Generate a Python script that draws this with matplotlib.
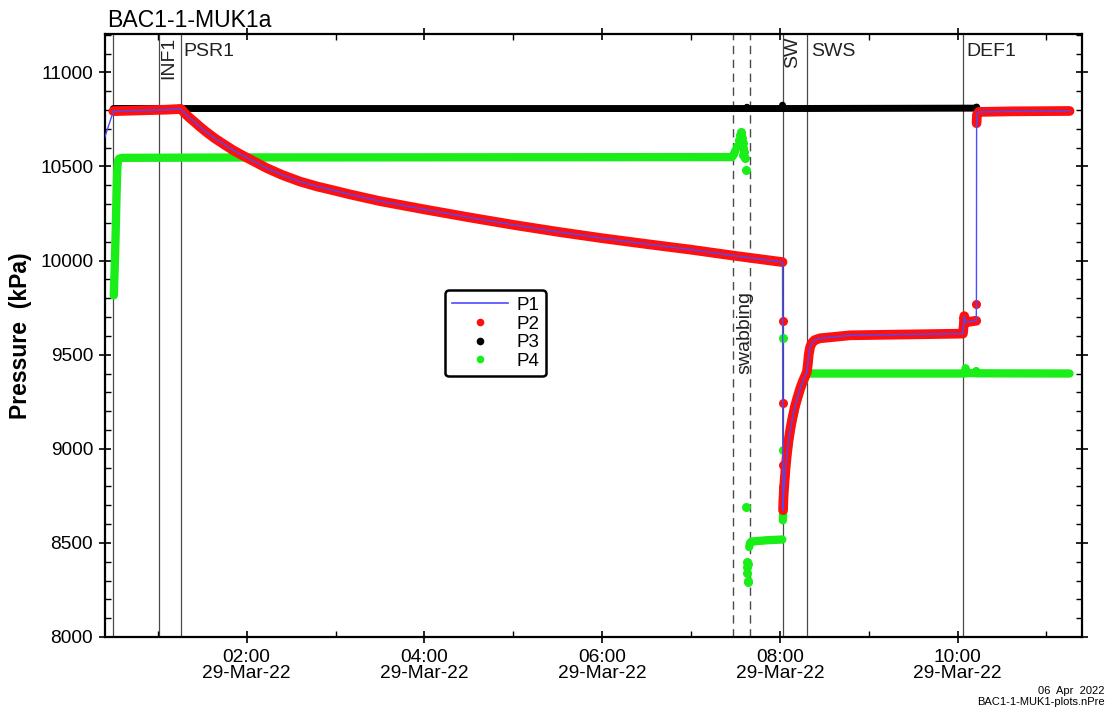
import numpy as np
import matplotlib
matplotlib.use("Agg")
import matplotlib.pyplot as plt
import matplotlib.dates as mdates
from matplotlib.lines import Line2D
from matplotlib.ticker import MultipleLocator
import matplotlib.transforms as mtransforms

plt.rcParams['font.family'] = ['Liberation Sans', 'DejaVu Sans']

# ---- gauge data (hours after midnight, 29-Mar-22; pressure in kPa) ----
# P2: continuous runs of readings
p2_run1_h = [0.50, 0.80, 1.10, 1.26, 1.30, 1.35, 1.40, 1.475, 1.55, 1.65, 1.75, 1.846, 1.95,
             2.05, 2.228, 2.40, 2.60, 2.80, 2.97, 3.16, 3.50, 4.00, 4.50, 5.00, 5.50, 6.00,
             6.50, 7.00, 7.50, 8.030]
p2_run1_kpa = [10794, 10798, 10802, 10806, 10785, 10762, 10742, 10711, 10682, 10647, 10616, 10587, 10560,
               10535, 10491, 10455, 10420, 10393, 10374, 10352, 10316, 10272, 10230, 10190, 10153, 10119,
               10088, 10058, 10025, 9992]
p2_run2_h = [8.036, 8.040, 8.045, 8.055, 8.065, 8.08, 8.10, 8.12, 8.14, 8.17, 8.20, 8.23, 8.26,
             8.29, 8.305, 8.315, 8.325, 8.34, 8.36, 8.39, 8.45, 8.60, 8.79, 9.50, 10.06,
             10.07, 10.075, 10.085, 10.09, 10.15, 10.20, 10.21]
p2_run2_kpa = [8674, 8730, 8775, 8840, 8900, 8975, 9050, 9110, 9160, 9225, 9275, 9322, 9360,
               9392, 9410, 9450, 9500, 9540, 9562, 9577, 9587, 9594, 9603, 9608, 9612,
               9660, 9705, 9680, 9673, 9676, 9680, 9680]
p2_run3_h = [10.214, 10.218, 10.24, 10.60, 11.26]
p2_run3_kpa = [10730, 10775, 10790, 10793, 10795]
# P2: isolated readings during fast transients
p2_iso_h = [8.031, 8.032, 8.033, 8.034, 8.035, 10.212]
p2_iso_kpa = [9678, 9242, 8913, 8796, 8750, 9770]

# P1: lead-in reading before P2 starts
p1_lead_h = [0.40]
p1_lead_kpa = [10650]

# P3
p3_h = [0.50, 7.62, 7.63, 7.64, 8.025, 8.030, 8.035, 10.21, 10.215, 10.22]
p3_kpa = [10808, 10808, 10815, 10808, 10808, 10826, 10808, 10810, 10816, 10810]

# P4: continuous runs
p4_run1_h = [0.505, 0.509, 0.513, 0.517, 0.521, 0.525, 0.529, 0.533, 0.537, 0.541, 0.546,
             0.552, 0.565, 0.60, 2.00, 5.00, 7.46, 7.48, 7.50]
p4_run1_kpa = [9815, 9870, 9930, 9990, 10060, 10130, 10210, 10290, 10370, 10440, 10500,
               10530, 10542, 10546, 10548, 10549, 10550, 10562, 10585]
p4_run2_h = [7.655, 7.665, 7.68, 7.85, 8.028]
p4_run2_kpa = [8478, 8500, 8507, 8514, 8518]
p4_run3_h = [8.034, 8.037, 8.040, 8.045, 8.055, 8.065, 8.08, 8.10, 8.12, 8.14, 8.17, 8.20,
             8.23, 8.26, 8.29, 8.305, 8.32, 8.40, 10.00, 10.08, 10.09, 10.10, 10.20, 10.21,
             10.22, 11.26]
p4_run3_kpa = [8620, 8660, 8715, 8765, 8830, 8890, 8965, 9040, 9100, 9150, 9215, 9265,
               9312, 9350, 9384, 9398, 9400, 9400, 9400, 9400, 9428, 9402, 9402, 9413,
               9401, 9400]
p4_iso_h = [7.52, 7.535, 7.55, 7.56, 7.565, 7.57, 7.58, 7.585, 7.59, 7.60, 7.61, 7.615,
            7.62, 7.625, 7.628, 7.632, 7.636, 7.640, 7.645, 8.031, 8.033]
p4_iso_kpa = [10610, 10640, 10665, 10683, 10670, 10650, 10625, 10600, 10560, 10575, 10545, 10480,
              8690, 8400, 8370, 8340, 8300, 8290, 8390, 9588, 8993]

# event markers
event_solid_h = [0.50, 1.01, 1.26, 8.035, 8.31, 10.06]
event_dashed_h = [7.47, 7.66]

BASE = mdates.date2num(np.datetime64('2022-03-29T00:00'))


def t(hours):
    return BASE + np.asarray(hours, dtype=float) / 24.0


def runs(*pairs):
    """Join runs of readings with NaN breaks so each run draws as one band."""
    xs, ys = [], []
    for h, v in pairs:
        xs.extend(list(h) + [np.nan])
        ys.extend(list(v) + [np.nan])
    return np.array(xs), np.array(ys)


C_P1 = '#4b4bff'
C_P2 = '#ff1010'
C_P3 = '#000000'
C_P4 = '#19ee19'

fig = plt.figure(figsize=(11.11, 7.08), dpi=100)
ax = fig.add_axes([105 / 1111, 1 - 637 / 708, (1082 - 105) / 1111, (637 - 34) / 708])

# P4 (bottom layer)
x4, y4 = runs((p4_run1_h, p4_run1_kpa), (p4_run2_h, p4_run2_kpa), (p4_run3_h, p4_run3_kpa))
ax.plot(t(x4), y4, color=C_P4, lw=6, solid_capstyle='round', solid_joinstyle='round', zorder=2)
ax.plot(t(p4_iso_h), p4_iso_kpa, ls='none', marker='o', ms=6.5, color=C_P4, mec='none', zorder=2)

# P3
ax.plot(t(p3_h), p3_kpa, color=C_P3, lw=5, solid_capstyle='round', solid_joinstyle='round', zorder=3)

# P2
x2, y2 = runs((p2_run1_h, p2_run1_kpa), (p2_run2_h, p2_run2_kpa), (p2_run3_h, p2_run3_kpa))
ax.plot(t(x2), y2, color=C_P2, lw=7, solid_capstyle='round', solid_joinstyle='round', zorder=4)
ax.plot(t(p2_iso_h), p2_iso_kpa, ls='none', marker='o', ms=6.5, color=C_P2, mec='none', zorder=4)

# P1 line through every reading
p1_h = np.concatenate([p1_lead_h, p2_run1_h, p2_iso_h, p2_run2_h, p2_run3_h])
p1_kpa = np.concatenate([p1_lead_kpa, p2_run1_kpa, p2_iso_kpa, p2_run2_kpa, p2_run3_kpa])
order = np.argsort(p1_h, kind='stable')
ax.plot(t(p1_h[order]), p1_kpa[order], color=C_P1, lw=1.0, zorder=5)

# event lines
for h in event_solid_h:
    ax.axvline(t(h), color='#4a4a4a', lw=0.9, zorder=1)
for h in event_dashed_h:
    ax.axvline(t(h), color='#4a4a4a', lw=1.0, ls=(0, (6, 4)), zorder=1)

trans = mtransforms.blended_transform_factory(ax.transData, ax.transAxes)
lab_kw = dict(transform=trans, fontsize=14, color='#222222', zorder=6)
ax.text(t(1.12), 0.995, 'INF1', rotation=90, ha='center', va='top', **lab_kw)
ax.text(t(1.284), 0.985, 'PSR1', ha='left', va='top', **lab_kw)
ax.text(t(8.14), 0.995, 'SW', rotation=90, ha='center', va='top', **lab_kw)
ax.text(t(8.35), 0.985, 'SWS', ha='left', va='top', **lab_kw)
ax.text(t(10.10), 0.985, 'DEF1', ha='left', va='top', **lab_kw)
ax.text(t(7.605), 0.505, 'swabbing', rotation=90, ha='center', va='center', **lab_kw)

# axes limits and ticks
ax.set_xlim(t(0.406), t(11.40))
ax.set_ylim(8000, 11204)
ax.xaxis.set_major_locator(mdates.HourLocator(byhour=range(0, 24, 2)))
ax.xaxis.set_minor_locator(mdates.HourLocator())
ax.xaxis.set_major_formatter(mdates.DateFormatter('%H:%M\n%d-%b-%y'))
ax.yaxis.set_major_locator(MultipleLocator(500))
ax.yaxis.set_minor_locator(MultipleLocator(100))
ax.tick_params(which='major', direction='inout', length=9, width=1.2,
               top=True, right=True, labelsize=13.8, pad=4)
ax.tick_params(which='minor', direction='in', length=4, width=1.0, top=True, right=True)
for lbl in ax.get_xticklabels():
    lbl.set_linespacing(0.95)
for s in ax.spines.values():
    s.set_linewidth(1.6)

ax.set_ylabel('Pressure  (kPa)', fontsize=16.5, fontweight='bold', labelpad=6)

# legend
handles = [
    Line2D([], [], color=C_P1, lw=1.2),
    Line2D([], [], ls='none', marker='o', ms=5.5, color=C_P2, mec='none'),
    Line2D([], [], ls='none', marker='o', ms=5.5, color=C_P3, mec='none'),
    Line2D([], [], ls='none', marker='o', ms=5.5, color=C_P4, mec='none'),
]
leg = ax.legend(handles, ['P1', 'P2', 'P3', 'P4'], loc='upper left',
                bbox_to_anchor=(0.348, 0.575), borderaxespad=0, fontsize=13.5,
                handlelength=3.0, labelspacing=0.08, borderpad=0.35, handletextpad=0.45,
                fancybox=True, framealpha=1, edgecolor='black')
leg.get_frame().set_linewidth(1.8)
leg.set_zorder(10)

fig.text(107 / 1111, 1 - 27 / 708, 'BAC1-1-MUK1a', fontsize=16.6, ha='left', va='baseline')
fig.text(1105 / 1111, 1 - 694 / 708, '06  Apr  2022', fontsize=8, ha='right', va='baseline')
fig.text(1105 / 1111, 1 - 705 / 708, 'BAC1-1-MUK1-plots.nPre', fontsize=8, ha='right', va='baseline')

fig.savefig('out.png', dpi=100)
